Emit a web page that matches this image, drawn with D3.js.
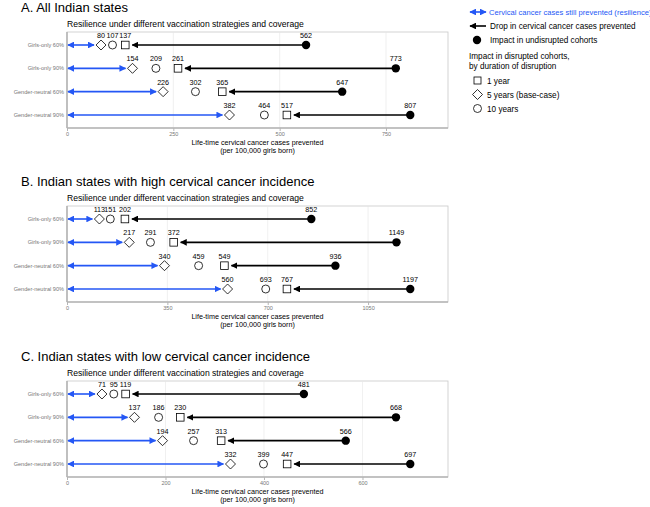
<!DOCTYPE html>
<html>
<head>
<meta charset="utf-8">
<script src="https://d3js.org/d3.v7.min.js"></script>
<style>
  body { margin: 0; background: #fff; }
  svg { font-family: "Liberation Sans", Arial, sans-serif; }
</style>
</head>
<body>
<div id="chart"></div>
<script>
// strategies (rows)
const strategies = ["Girls-only 60%", "Girls-only 90%", "Gender-neutral 60%", "Gender-neutral 90%"];

// panel titles
const panelTitles = ["A. All Indian states",
  "B. Indian states with high cervical cancer incidence",
  "C. Indian states with low cervical cancer incidence"];

// values per panel, one per strategy
const fiveYears  = [[80, 154, 226, 382], [113, 217, 340, 560], [71, 137, 194, 332]];
const tenYears   = [[107, 209, 302, 464], [151, 291, 459, 693], [95, 186, 257, 399]];
const oneYear    = [[137, 261, 365, 517], [202, 372, 549, 767], [119, 230, 313, 447]];
const undisrupted = [[562, 773, 647, 807], [852, 1149, 936, 1197], [481, 668, 566, 697]];

// x tick values
const xTicks = [[0, 250, 500, 750], [0, 350, 700, 1050], [0, 200, 400, 600]];

const width = 650, height = 507;
const blue = "#2457f5";

const svg = d3.select("#chart").append("svg")
  .attr("width", width).attr("height", height);

const defs = svg.append("defs");
function marker(id, color, orient) {
  defs.append("marker")
    .attr("id", id)
    .attr("viewBox", "0 0 10 10")
    .attr("refX", 9).attr("refY", 5)
    .attr("markerWidth", 4.2).attr("markerHeight", 4.2)
    .attr("markerUnits", "strokeWidth")
    .attr("orient", orient)
    .append("path")
    .attr("d", "M0,0 L10,5 L0,10 z")
    .attr("fill", color);
}
marker("blueHead", blue, "auto-start-reverse");
marker("blackHead", "#000", "auto");

const left = 67, right = 448, plotH = 96;
const tops = [32, 206, 381];

function diamond(g, x, y, r) {
  g.append("path")
    .attr("d", `M${x},${y - r} L${x + r},${y} L${x},${y + r} L${x - r},${y} Z`)
    .attr("fill", "#fff").attr("stroke", "#000").attr("stroke-width", 0.8);
}

tops.forEach(function (top, p) {
  const g = svg.append("g");
  const maxV = d3.max(undisrupted[p]);
  const x = d3.scaleLinear().domain([0, maxV * 1.11]).range([left, right]);
  const y = d3.scalePoint().domain(strategies).range([top + 13, top + plotH - 13]);

  // titles
  g.append("text").attr("x", 21).attr("y", top - 20)
    .attr("font-size", 13).attr("fill", "#000").text(panelTitles[p]);
  g.append("text").attr("x", left).attr("y", top - 5)
    .attr("font-size", 8.6).attr("fill", "#000")
    .text("Resilience under different vaccination strategies and coverage");

  // panel frame and grid
  g.append("rect").attr("x", left).attr("y", top)
    .attr("width", right - left).attr("height", plotH)
    .attr("fill", "none").attr("stroke", "#c8c8c8").attr("stroke-width", 0.8);
  g.selectAll(".grid").data(xTicks[p].slice(1)).enter().append("line")
    .attr("x1", d => x(d)).attr("x2", d => x(d))
    .attr("y1", top).attr("y2", top + plotH)
    .attr("stroke", "#e6e6e6").attr("stroke-width", 0.6);
  g.append("line").attr("x1", left).attr("x2", left).attr("y1", top).attr("y2", top + plotH)
    .attr("stroke", "#b5b5b5").attr("stroke-width", 1.6);
  g.append("line").attr("x1", left).attr("x2", right).attr("y1", top + plotH).attr("y2", top + plotH)
    .attr("stroke", "#b5b5b5").attr("stroke-width", 1.6);

  // x axis
  const ax = g.append("g").attr("transform", `translate(0,${top + plotH})`)
    .call(d3.axisBottom(x).tickValues(xTicks[p]).tickFormat(d3.format("d"))
      .tickSize(3).tickPadding(1.5));
  ax.select(".domain").remove();
  ax.selectAll("line").attr("stroke", "#b5b5b5");
  ax.selectAll("text").attr("font-size", 5.5).attr("fill", "#777")
    .attr("font-family", "Liberation Sans, Arial, sans-serif");

  g.append("text").attr("x", (left + right) / 2).attr("y", top + plotH + 17)
    .attr("text-anchor", "middle").attr("font-size", 7.2).attr("fill", "#000")
    .text("Life-time cervical cancer cases prevented");
  g.append("text").attr("x", (left + right) / 2).attr("y", top + plotH + 25)
    .attr("text-anchor", "middle").attr("font-size", 7.2).attr("fill", "#000")
    .text("(per 100,000 girls born)");

  // y labels
  g.selectAll(".ylab").data(strategies).enter().append("text")
    .attr("x", left - 3).attr("y", d => y(d) + 2)
    .attr("text-anchor", "end").attr("font-size", 5.6).attr("fill", "#777")
    .text(d => d);

  strategies.forEach(function (s, i) {
    const cy = y(s);
    // blue double arrow (resilience)
    g.append("line")
      .attr("x1", x(0) + 1).attr("x2", x(fiveYears[p][i]) - 7)
      .attr("y1", cy).attr("y2", cy)
      .attr("stroke", blue).attr("stroke-width", 1.6)
      .attr("marker-start", "url(#blueHead)").attr("marker-end", "url(#blueHead)");
    // black arrow (drop)
    g.append("line")
      .attr("x1", x(undisrupted[p][i])).attr("x2", x(oneYear[p][i]) + 7)
      .attr("y1", cy).attr("y2", cy)
      .attr("stroke", "#000").attr("stroke-width", 1.6)
      .attr("marker-end", "url(#blackHead)");
    // markers
    diamond(g, x(fiveYears[p][i]), cy, 5);
    g.append("circle").attr("cx", x(tenYears[p][i])).attr("cy", cy).attr("r", 4)
      .attr("fill", "#fff").attr("stroke", "#000").attr("stroke-width", 0.8);
    g.append("rect").attr("x", x(oneYear[p][i]) - 3.8).attr("y", cy - 3.8)
      .attr("width", 7.6).attr("height", 7.6)
      .attr("fill", "#fff").attr("stroke", "#000").attr("stroke-width", 0.8);
    g.append("circle").attr("cx", x(undisrupted[p][i])).attr("cy", cy).attr("r", 4.2)
      .attr("fill", "#000");
    // value labels
    [fiveYears[p][i], tenYears[p][i], oneYear[p][i], undisrupted[p][i]].forEach(function (v) {
      g.append("text").attr("x", x(v)).attr("y", cy - 7)
        .attr("text-anchor", "middle").attr("font-size", 7.2).attr("fill", "#000")
        .text(v);
    });
  });
});

// legend
const lg = svg.append("g").attr("font-size", 8.2).attr("fill", "#000");
lg.append("line").attr("x1", 470).attr("x2", 486).attr("y1", 12).attr("y2", 12)
  .attr("stroke", blue).attr("stroke-width", 1.6)
  .attr("marker-start", "url(#blueHead)").attr("marker-end", "url(#blueHead)");
lg.append("text").attr("x", 489).attr("y", 15).attr("fill", blue).attr("font-size", 7.6)
  .text("Cervical cancer cases still prevented (resilience)");
lg.append("line").attr("x1", 486).attr("x2", 470).attr("y1", 26).attr("y2", 26)
  .attr("stroke", "#000").attr("stroke-width", 1.6).attr("marker-end", "url(#blackHead)");
lg.append("text").attr("x", 490).attr("y", 29).text("Drop in cervical cancer cases prevented");
lg.append("circle").attr("cx", 477).attr("cy", 40).attr("r", 4.2).attr("fill", "#000");
lg.append("text").attr("x", 490).attr("y", 43).text("Impact in undisrupted cohorts");
lg.append("text").attr("x", 469).attr("y", 59).text("Impact in disrupted cohorts,");
lg.append("text").attr("x", 469).attr("y", 68.5).text("by duration of disruption");
lg.append("rect").attr("x", 474).attr("y", 77).attr("width", 7).attr("height", 7)
  .attr("fill", "#fff").attr("stroke", "#000").attr("stroke-width", 0.8);
lg.append("text").attr("x", 487).attr("y", 83.5).text("1 year");
diamond(lg, 477.5, 94.5, 5);
lg.append("text").attr("x", 487).attr("y", 97.5).text("5 years (base-case)");
lg.append("circle").attr("cx", 477.5).attr("cy", 108.5).attr("r", 4)
  .attr("fill", "#fff").attr("stroke", "#000").attr("stroke-width", 0.8);
lg.append("text").attr("x", 487).attr("y", 111.5).text("10 years");
</script>
</body>
</html>
